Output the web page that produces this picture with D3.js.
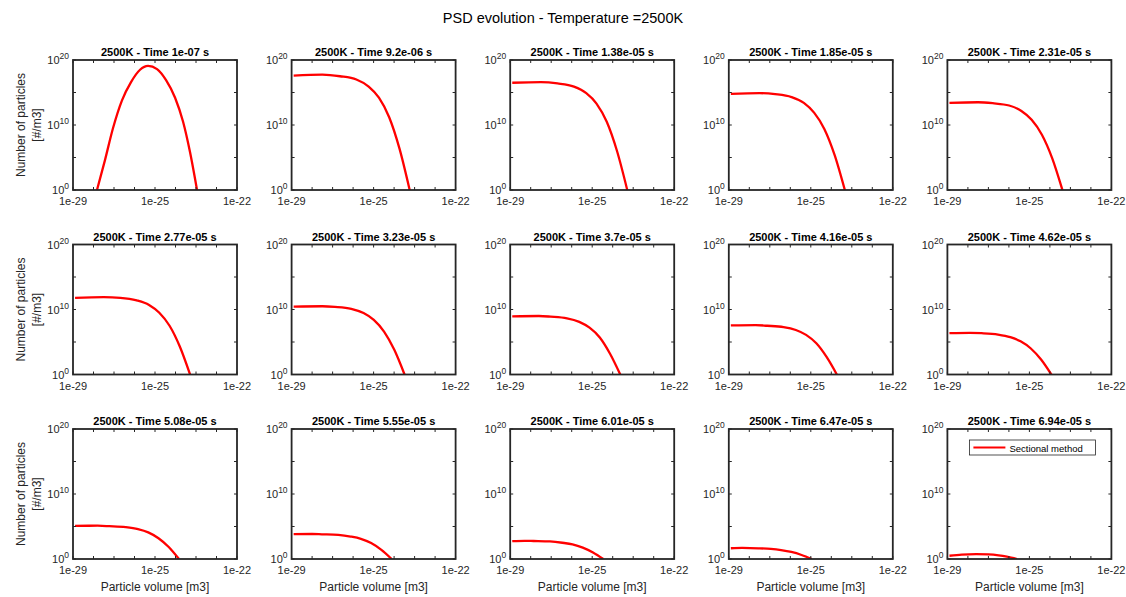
<html>
<head>
<style>
  body { margin: 0; background: #fff; }
  text { font-family: "Liberation Sans", Arial, Helvetica, sans-serif; }
</style>
</head>
<body>
<svg id="chart" width="1126" height="597"></svg>
<script src="https://d3js.org/d3.v7.min.js"></script>
<script>
// panel titles (time in s)
var times = ["1e-07", "9.2e-06", "1.38e-05", "1.85e-05", "2.31e-05",
             "2.77e-05", "3.23e-05", "3.7e-05", "4.16e-05", "4.62e-05",
             "5.08e-05", "5.55e-05", "6.01e-05", "6.47e-05", "6.94e-05"];

// x axis is log10 of particle volume, ticks as printed on the plot
var xTickVals = [-29, -25, -21];
var xTickLabels = ["1e-29", "1e-25", "1e-22"];
var xMinorVals = [-29, -28, -27, -26, -25, -24, -23, -22, -21];
var yTickVals = [0, 10, 20];
var yMinorVals = [0, 5, 10, 15, 20];

// each curve: [log10 volume, log10 number]
var curves = [
  [[-27.83,0],[-27.44,4.6],[-27.05,9.5],[-26.61,13.8],[-26.17,16.6],[-25.73,18.5],[-25.34,19.1],[-24.90,18.6],[-24.46,16.9],[-24.02,14.2],[-23.63,10.5],[-23.29,5.8],[-22.95,0]],
  [[-28.9,17.6],[-27.5,17.75],[-26.64,17.5],[-25.84,17.0],[-25.24,15.9],[-24.74,14.2],[-24.24,11.2],[-23.74,6.4],[-23.24,0]],
  [[-28.9,16.5],[-27.5,16.6],[-26.69,16.4],[-25.89,15.9],[-25.29,14.9],[-24.79,13.3],[-24.29,10.5],[-23.79,6.0],[-23.29,0]],
  [[-28.9,14.8],[-27.5,14.9],[-26.74,14.75],[-25.94,14.3],[-25.34,13.4],[-24.84,11.9],[-24.34,9.4],[-23.84,5.4],[-23.34,0]],
  [[-28.9,13.4],[-27.5,13.5],[-26.79,13.35],[-25.99,13.0],[-25.39,12.15],[-24.89,10.8],[-24.39,8.5],[-23.89,4.9],[-23.39,0]],
  [[-28.9,11.8],[-27.5,11.9],[-26.69,11.8],[-25.89,11.4],[-25.29,10.7],[-24.79,9.5],[-24.29,7.5],[-23.79,4.3],[-23.29,0]],
  [[-28.9,10.45],[-27.5,10.5],[-26.89,10.4],[-26.09,10.1],[-25.49,9.45],[-24.99,8.4],[-24.49,6.6],[-23.99,3.8],[-23.49,0]],
  [[-28.9,8.95],[-27.6,9.0],[-27.03,8.9],[-26.23,8.65],[-25.63,8.1],[-25.13,7.2],[-24.63,5.7],[-24.13,3.2],[-23.63,0]],
  [[-28.9,7.55],[-27.7,7.6],[-27.13,7.5],[-26.33,7.3],[-25.73,6.85],[-25.23,6.1],[-24.73,4.8],[-24.23,2.7],[-23.73,0]],
  [[-28.9,6.35],[-27.9,6.4],[-27.33,6.35],[-26.53,6.15],[-25.93,5.75],[-25.43,5.1],[-24.93,4.0],[-24.43,2.3],[-23.93,0]],
  [[-28.9,5.1],[-27.8,5.12],[-27.23,5.05],[-26.43,4.9],[-25.83,4.6],[-25.33,4.1],[-24.83,3.2],[-24.33,1.85],[-23.83,0]],
  [[-28.9,3.82],[-28.0,3.85],[-27.52,3.8],[-26.72,3.7],[-26.12,3.45],[-25.62,3.1],[-25.12,2.45],[-24.62,1.4],[-24.12,0]],
  [[-28.9,2.75],[-28.3,2.8],[-27.86,2.77],[-27.06,2.7],[-26.46,2.5],[-25.96,2.25],[-25.46,1.75],[-24.96,1.0],[-24.46,0]],
  [[-28.9,1.65],[-28.35,1.7],[-27.55,1.65],[-26.95,1.55],[-26.45,1.37],[-25.95,1.08],[-25.45,0.62],[-24.95,0]],
  [[-28.9,0.5],[-28.3,0.68],[-27.6,0.75],[-27.0,0.7],[-26.5,0.55],[-26.1,0.35],[-25.6,0]]
];

var svg = d3.select("#chart");
var axisColor = "#262626";

var pw = 164, ph = 130;
var colStep = 218.6, rowStep = 184.5;
var left0 = 73, top0 = 60;

var x = d3.scaleLinear().domain([-29, -21]).range([0, pw]);
var y = d3.scaleLinear().domain([0, 20]).range([ph, 0]);

var line = d3.line()
    .x(function(d) { return x(d[0]); })
    .y(function(d) { return y(d[1]); })
    .curve(d3.curveMonotoneX);

svg.append("text")
    .attr("x", 563).attr("y", 23)
    .attr("text-anchor", "middle")
    .attr("font-size", 14.5)
    .attr("fill", "#000")
    .text("PSD evolution - Temperature =2500K");

for (var i = 0; i < curves.length; i++) {
    var r = Math.floor(i / 5), c = i % 5;
    var g = svg.append("g")
        .attr("transform", "translate(" + (left0 + c * colStep) + "," + (top0 + r * rowStep) + ")");

    g.append("clipPath").attr("id", "clip" + i)
        .append("rect").attr("width", pw).attr("height", ph);

    g.append("path")
        .datum(curves[i])
        .attr("d", line)
        .attr("fill", "none")
        .attr("stroke", "#ff0000")
        .attr("stroke-width", 2.3)
        .attr("clip-path", "url(#clip" + i + ")");

    // tick marks, inside, on all four sides
    xMinorVals.forEach(function(v) {
        g.append("line").attr("x1", x(v)).attr("x2", x(v)).attr("y1", ph).attr("y2", ph - 3)
            .attr("stroke", axisColor).attr("stroke-width", 1);
        g.append("line").attr("x1", x(v)).attr("x2", x(v)).attr("y1", 0).attr("y2", 3)
            .attr("stroke", axisColor).attr("stroke-width", 1);
    });
    yMinorVals.forEach(function(v) {
        g.append("line").attr("x1", 0).attr("x2", 3).attr("y1", y(v)).attr("y2", y(v))
            .attr("stroke", axisColor).attr("stroke-width", 1);
        g.append("line").attr("x1", pw).attr("x2", pw - 3).attr("y1", y(v)).attr("y2", y(v))
            .attr("stroke", axisColor).attr("stroke-width", 1);
    });

    g.append("rect")
        .attr("width", pw).attr("height", ph)
        .attr("fill", "none")
        .attr("stroke", axisColor)
        .attr("stroke-width", 1.8);

    // x tick labels
    xTickVals.forEach(function(v, k) {
        g.append("text")
            .attr("x", x(v)).attr("y", ph + 15)
            .attr("text-anchor", "middle")
            .attr("font-size", 11)
            .attr("fill", axisColor)
            .text(xTickLabels[k]);
    });

    // y tick labels 10^n
    yTickVals.forEach(function(v) {
        var t = g.append("text")
            .attr("x", -4).attr("y", y(v) + 4)
            .attr("text-anchor", "end")
            .attr("font-size", 11)
            .attr("fill", axisColor);
        t.append("tspan").text("10");
        t.append("tspan").attr("dy", -5).attr("font-size", 8.5).text(v);
    });

    g.append("text")
        .attr("x", pw / 2).attr("y", -4)
        .attr("text-anchor", "middle")
        .attr("font-size", 11)
        .attr("font-weight", "bold")
        .attr("fill", "#000")
        .text("2500K - Time " + times[i] + " s");

    if (c == 0) {
        var yl = g.append("text")
            .attr("transform", "translate(-48," + (ph / 2) + ") rotate(-90)")
            .attr("text-anchor", "middle")
            .attr("font-size", 12)
            .attr("fill", axisColor);
        yl.append("tspan").attr("x", 0).attr("y", 0).text("Number of particles");
        yl.append("tspan").attr("x", 0).attr("y", 16).text("[#/m3]");
    }

    if (r == 2) {
        g.append("text")
            .attr("x", pw / 2).attr("y", ph + 32)
            .attr("text-anchor", "middle")
            .attr("font-size", 12)
            .attr("fill", axisColor)
            .text("Particle volume [m3]");
    }

    if (i == curves.length - 1) {
        var lg = g.append("g").attr("transform", "translate(22,11)");
        lg.append("rect").attr("width", 126).attr("height", 15)
            .attr("fill", "#fff").attr("stroke", axisColor).attr("stroke-width", 0.8);
        lg.append("line").attr("x1", 4).attr("x2", 36).attr("y1", 7.5).attr("y2", 7.5)
            .attr("stroke", "#ff0000").attr("stroke-width", 2.2);
        lg.append("text").attr("x", 40).attr("y", 11.5)
            .attr("font-size", 9.5).attr("fill", "#000")
            .text("Sectional method");
    }
}
</script>
</body>
</html>
